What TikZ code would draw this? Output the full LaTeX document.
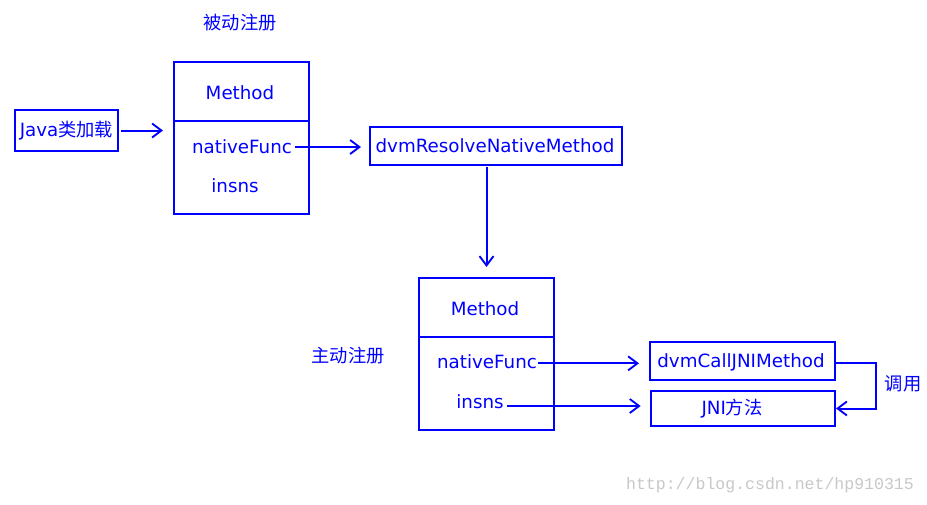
\documentclass[tikz,border=0pt]{standalone}
\usepackage{fontspec}
\setmainfont{DejaVu Sans}
\newfontfamily\cjk{Noto Sans CJK SC}
\newfontfamily\wmfont{Liberation Mono}
\usetikzlibrary{arrows.meta}
\begin{document}
\begin{tikzpicture}[x=0.75pt,y=-0.75pt,
  box/.style={draw=blue, line width=1.5pt, inner sep=0pt},
  lbl/.style={text=blue, inner sep=1pt, font=\fontsize{13.7}{16}\selectfont},
  cjklbl/.style={text=blue, inner sep=1pt, font=\fontsize{13.7}{16}\selectfont\cjk},
  arr/.style={draw=blue, line width=1.5pt, -{Straight Barb[length=7pt,width=10.5pt,line width=1.4pt]}},
  divider/.style={draw=blue, line width=1.5pt}]
\useasboundingbox (0,0) rectangle (927,504);
\fill[white] (0,0) rectangle (927,504);

% boxes
\node[box, minimum width=77.25pt, minimum height=30.75pt] (java) at (66.5,130.5) {};
\node[lbl] (javat) at (66.5,131) {Java{\cjk 类加载}};

\node[box, minimum width=101.25pt, minimum height=114pt] (m1) at (241.5,138) {};
\draw[divider] ([yshift=-45pt]m1.north west) -- ([yshift=-45pt]m1.north east);
\node[lbl] (m1t) at (240,93) {Method};
\node[lbl] (nf1) at (242,147) {nativeFunc};
\node[lbl] (in1) at (235,186) {insns};
\node[cjklbl] (t1) at (240,23) {被动注册};

\node[box, minimum width=189pt, minimum height=28.5pt] (res) at (496,146) {};
\node[lbl] (rest) at (495,146) {dvmResolveNativeMethod};

\node[box, minimum width=101.25pt, minimum height=114pt] (m2) at (486.5,354) {};
\draw[divider] ([yshift=-45pt]m2.north west) -- ([yshift=-45pt]m2.north east);
\node[lbl] (m2t) at (485,309) {Method};
\node[lbl] (nf2) at (487,362) {nativeFunc};
\node[lbl] (in2) at (480,402) {insns};
\node[cjklbl] (t2) at (348,356) {主动注册};

\node[box, minimum width=138.75pt, minimum height=28.5pt] (call) at (742.5,361) {};
\node[lbl] (callt) at (741,362) {dvmCallJNIMethod};

\node[box, minimum width=138pt, minimum height=26.25pt] (jni) at (743,408.5) {};
\node[lbl] (jnit) at (732,409) {JNI{\cjk 方法}};

\node[cjklbl] (diao) at (903,384) {调用};

% connectors
\draw[arr, shorten <=1.5pt, shorten >=7.5pt] (java.east) -- (m1.west |- java.east);
\draw[arr, shorten <=1pt, shorten >=6pt] (nf1.east) -- (nf1.east -| res.west);
\draw[arr, shorten <=1pt, shorten >=7.5pt] (res.south -| m2.north) -- (m2.north);
\draw[arr, shorten <=0pt, shorten >=7.5pt] ([yshift=-1pt]nf2.east) -- ([yshift=-1pt]nf2.east -| call.west);
\draw[arr, shorten <=1pt, shorten >=7pt] ([yshift=-3pt]in2.east) -- ([yshift=-3pt]in2.east -| jni.west);
\draw[arr] ([yshift=-1.5pt]call.east) -- ++(40,0) |- (jni.east);

% watermark
\node[text={rgb,255:red,200;green,200;blue,200}, font=\fontsize{12.4}{14}\selectfont\wmfont, inner sep=0pt] (wm) at (770,485) {http://blog.csdn.net/hp910315};
\end{tikzpicture}
\end{document}
